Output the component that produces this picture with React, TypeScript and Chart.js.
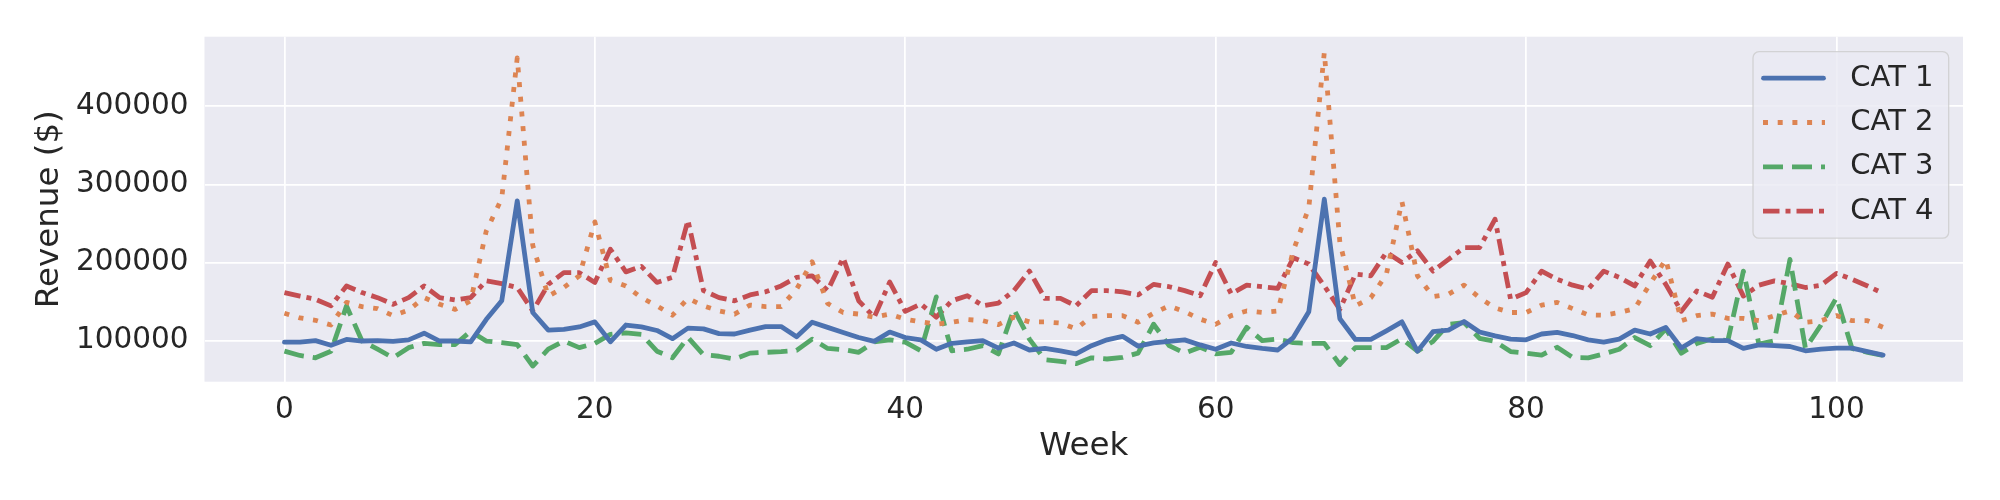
import { useEffect, useRef } from 'react'
import { Chart, registerables } from 'chart.js'

Chart.register(...registerables)

const weeks = Array.from({ length: 104 }, (_, i) => i)

const cat1 = [
  98000, 98000, 100000, 94000, 101500, 99500, 100000, 99000, 101000, 109500,
  99500, 99500, 98500, 127000, 151000, 279000, 136000, 113500, 114500, 117500,
  124000, 98500, 120000, 117500, 113000, 102500, 116000, 115000, 109000, 108500,
  113500, 118000, 118000, 105000, 123500, 117000, 110500, 104000, 99000, 111000,
  104000, 101000, 89000, 96500, 98500, 100000, 90500, 97000, 88000, 90000,
  87000, 83000, 93500, 101000, 105500, 93000, 97000, 99000, 101000, 94500,
  89000, 97000, 92500, 90000, 88000, 104000, 137000, 281000, 128000, 101500,
  101500, 112500, 124000, 86500, 111500, 113500, 124500, 111000, 106000, 102000,
  101000, 108500, 110500, 106500, 101000, 98000, 102000, 113500, 108500, 117000,
  90500, 102500, 100000, 100000, 90000, 94500, 93500, 92500, 87000, 89000,
  90500, 90500, 86000, 81500
]

const cat2 = [
  135000, 129000, 126000, 120000, 149000, 143500, 141000, 132000, 139000, 155000,
  146500, 140000, 151000, 240000, 282000, 462000, 222000, 157000, 168000, 183000,
  252000, 177000, 170000, 155000, 144500, 132500, 154000, 144500, 138000, 134000,
  145500, 143500, 143500, 166000, 201000, 147500, 136000, 134000, 130000, 134000,
  127500, 124000, 121000, 123500, 127000, 125500, 120500, 130000, 124000, 124000,
  122500, 115000, 131000, 132000, 132000, 123500, 135000, 144500, 137000, 127500,
  121000, 132000, 138000, 136000, 138000, 215000, 270000, 469000, 226000, 144500,
  155000, 185000, 278000, 183000, 156500, 159500, 171000, 155000, 142000, 136000,
  136000, 145500, 149000, 141000, 133000, 132500, 136000, 141000, 173000, 204000,
  125500, 132000, 134000, 128500, 128500, 125500, 132000, 138000, 123500, 125500,
  132000, 125500, 125500, 117000
]

const cat3 = [
  86500, 81000, 78000, 86500, 144500, 99500, 89000, 78000, 91000, 96500,
  95000, 95000, 112000, 99500, 97500, 95000, 67500, 89000, 99500, 91000,
  96500, 108000, 110000, 108000, 86500, 78000, 104000, 82000, 80000, 76500,
  84000, 85000, 86000, 87500, 102000, 90000, 88500, 85000, 98500, 101000,
  98000, 87000, 156000, 87000, 89000, 93500, 83000, 140000, 102000, 75500,
  73500, 70500, 78000, 76500, 78500, 84000, 121000, 93500, 84000, 91500,
  83000, 85000, 117000, 100000, 102000, 97500, 96500, 96500, 69500, 91000,
  91000, 91000, 102500, 86500, 99000, 121000, 123000, 103000, 99000, 86000,
  84000, 81500, 91500, 78500, 78000, 83000, 89000, 104000, 93500, 115000,
  84000, 96500, 102500, 100000, 189000, 95500, 100000, 204000, 90000, 120000,
  155000, 90000, 85000, 81000
]

const cat4 = [
  161500, 157000, 153000, 144500, 170000, 161500, 155000, 146500, 155000, 170000,
  155000, 152000, 155000, 176500, 173000, 168000, 138000, 172000, 187000, 187000,
  174500, 217000, 188000, 195000, 174500, 181000, 254000, 164000, 155000, 151000,
  158500, 162500, 170000, 181000, 183000, 164000, 206000, 151000, 130000, 175000,
  137500, 147000, 130000, 151000, 157500, 144500, 148000, 164000, 189000, 154000,
  154000, 144500, 164000, 164000, 162500, 158500, 172000, 169000, 164000, 157500,
  200000, 160000, 171000, 169000, 167000, 206000, 198000, 170000, 140000, 185000,
  183000, 213000, 200000, 215000, 189000, 204000, 219000, 219000, 255500, 153000,
  161500, 189000, 178500, 171000, 166000, 189000, 181000, 170000, 202000, 172000,
  137500, 163500, 155500, 198000, 157000, 171000, 176500, 173000, 168000, 171000,
  186000, 178500, 170000, 160500
]

const seriesNames = ['CAT 1', 'CAT 2', 'CAT 3', 'CAT 4']
const xTicks = [0, 20, 40, 60, 80, 100]
const yTicks = [100000, 200000, 300000, 400000]

const colors = ['#4C72B0', '#DD8452', '#55A868', '#C44E52']
const dashes = [[], [5, 9.7], [20, 9], [16.5, 6, 5, 6]]
const caps: CanvasLineCap[] = ['round', 'butt', 'butt', 'butt']
const textColor = '#262626'
const font = 'DejaVu Sans'

const plotBackground = {
  id: 'plotBackground',
  beforeDraw(chart: any) {
    const { ctx, chartArea } = chart
    ctx.save()
    ctx.fillStyle = '#EAEAF2'
    ctx.fillRect(chartArea.left, chartArea.top, chartArea.width, chartArea.height)
    ctx.restore()
  }
}

// matplotlib style legend box in the upper right of the axes
const legendBox = {
  id: 'legendBox',
  afterDraw(chart: any) {
    const { ctx, chartArea } = chart
    const w = 195.7
    const h = 186.5
    const left = chartArea.right - 14.3 - w
    const top = chartArea.top + 15
    ctx.save()
    ctx.beginPath()
    ctx.roundRect(left, top, w, h, 6)
    ctx.fillStyle = 'rgba(234,234,242,0.8)'
    ctx.fill()
    ctx.strokeStyle = 'rgba(204,204,204,0.8)'
    ctx.lineWidth = 1.3
    ctx.stroke()
    chart.data.datasets.forEach((ds: any, i: number) => {
      const y = top + 26.5 + i * 44.3
      ctx.beginPath()
      ctx.setLineDash(ds.borderDash || [])
      ctx.lineCap = ds.borderCapStyle
      ctx.strokeStyle = ds.borderColor
      ctx.lineWidth = ds.borderWidth
      const x0 = ds.borderCapStyle === 'round' ? left + 10.5 : left + 10
      const x1 = ds.borderCapStyle === 'round' ? left + 70.5 : left + 72
      ctx.moveTo(x0, y)
      ctx.lineTo(x1, y)
      ctx.stroke()
      ctx.setLineDash([])
      ctx.fillStyle = textColor
      ctx.font = `29px "${font}"`
      ctx.textAlign = 'left'
      ctx.textBaseline = 'middle'
      ctx.fillText(ds.label, left + 97.3, y)
    })
    ctx.restore()
  }
}

export default function App() {
  const canvasRef = useRef<HTMLCanvasElement>(null)

  useEffect(() => {
    document.body.style.margin = '0'
    if (!canvasRef.current) return

    const series = [cat1, cat2, cat3, cat4]
    const all = series.flat()
    const lo = Math.min(...all)
    const hi = Math.max(...all)
    const yPad = (hi - lo) * 0.05
    const xPad = (weeks[weeks.length - 1] - weeks[0]) * 0.05

    const chart = new Chart(canvasRef.current, {
      type: 'line',
      data: {
        datasets: series.map((values, i) => ({
          label: seriesNames[i],
          data: weeks.map((w, j) => ({ x: w, y: values[j] })),
          borderColor: colors[i],
          backgroundColor: colors[i],
          borderWidth: 4.8,
          borderDash: dashes[i],
          borderCapStyle: caps[i],
          borderJoinStyle: 'round',
          pointRadius: 0,
          tension: 0,
          fill: false
        }))
      },
      options: {
        animation: false,
        responsive: false,
        devicePixelRatio: 1,
        layout: { padding: { left: 0, right: 37, top: 36.7, bottom: 0 } },
        plugins: {
          legend: { display: false },
          tooltip: { enabled: false }
        },
        scales: {
          x: {
            type: 'linear',
            min: weeks[0] - xPad,
            max: weeks[weeks.length - 1] + xPad,
            afterBuildTicks: (scale: any) => {
              scale.ticks = xTicks.map((v) => ({ value: v }))
            },
            afterFit: (scale: any) => {
              scale.height = 118.3
            },
            grid: { color: '#FFFFFF', lineWidth: 1.75, drawTicks: false },
            border: { display: false },
            ticks: {
              padding: 10.5,
              color: textColor,
              maxRotation: 0,
              font: { family: font, size: 29.5 }
            },
            title: {
              display: true,
              text: 'Week',
              color: textColor,
              font: { family: font, size: 32.5 },
              padding: { top: 0, bottom: 34 }
            }
          },
          y: {
            type: 'linear',
            min: lo - yPad,
            max: hi + yPad,
            afterBuildTicks: (scale: any) => {
              scale.ticks = yTicks.map((v) => ({ value: v }))
            },
            afterFit: (scale: any) => {
              scale.width = 204.5
            },
            grid: { color: '#FFFFFF', lineWidth: 1.75, drawTicks: false },
            border: { display: false },
            ticks: {
              padding: 16,
              color: textColor,
              font: { family: font, size: 29.5 },
              callback: (v: any) => String(v)
            },
            title: {
              display: true,
              text: 'Revenue ($)',
              color: textColor,
              font: { family: font, size: 32.5 },
              padding: { top: 30, bottom: 0 }
            }
          }
        }
      },
      plugins: [plotBackground, legendBox]
    })

    return () => {
      chart.destroy()
    }
  }, [])

  return (
    <div style={{ width: 2000, height: 500 }}>
      <canvas ref={canvasRef} width={2000} height={500} style={{ width: 2000, height: 500 }}></canvas>
    </div>
  )
}
